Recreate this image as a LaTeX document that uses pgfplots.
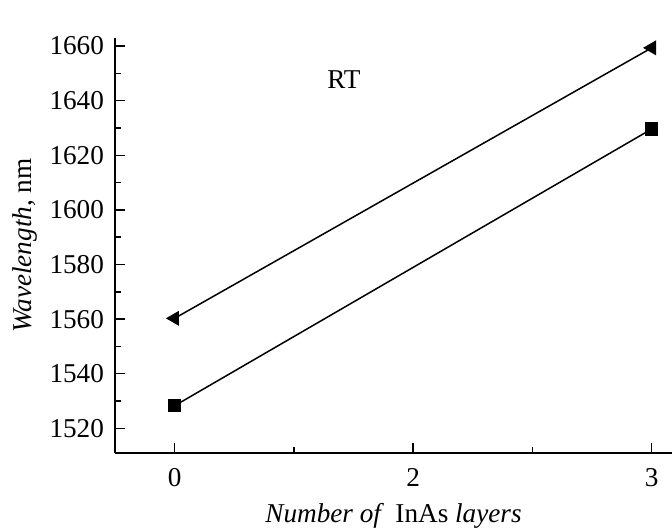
\documentclass[border=0pt]{standalone}
\usepackage{fontspec}
\setmainfont{Liberation Serif}
\usepackage{pgfplots}
\pgfplotsset{compat=1.18}
\begin{document}
\begin{tikzpicture}[font=\fontsize{13.6}{16}\selectfont]
\useasboundingbox (-57.5pt,-38pt) rectangle (278.5pt,226.5pt);
\begin{axis}[
  scale only axis,
  width=278.5pt, height=207.5pt,
  xmin=-0.25, xmax=2.085,
  ymin=1511, ymax=1662.9,
  axis x line*=bottom, axis y line*=left,
  axis line style={line width=0.85pt},
  tick align=inside,
  major tick length=5pt, minor tick length=3pt,
  every tick/.style={black, line width=0.7pt},
  xtick={0,1,2}, xticklabels={0,2,3},
  minor xtick={0.5,1.5},
  ytick={1520,1540,1560,1580,1600,1620,1640,1660},
  yticklabels={1520,1540,1560,1580,1600,1620,1640,1660},
  minor ytick={1530,1550,1570,1590,1610,1630,1650},
  xticklabel style={yshift=-4pt},
  yticklabel style={xshift=-2pt},
  xlabel={\textit{Number of} \,InAs \textit{layers}},
  ylabel={\textit{Wavelength}, nm},
  xlabel style={at={(axis description cs:0.5,-0.152)}, anchor=center},
  ylabel style={at={(axis description cs:-0.1616,0.5)}, anchor=center},
  clip=false,
]
\addplot[black, line width=0.75pt, mark=triangle*, mark size=3.6pt, mark options={rotate=90, solid}]
  coordinates {(0,1560.3) (2,1659.3)};
\addplot[black, line width=0.75pt, mark=square*, mark size=2.9pt]
  coordinates {(0,1528.3) (2,1629.6)};
\node at (axis cs:0.71,1647.6) {RT};
\end{axis}
\end{tikzpicture}
\end{document}
